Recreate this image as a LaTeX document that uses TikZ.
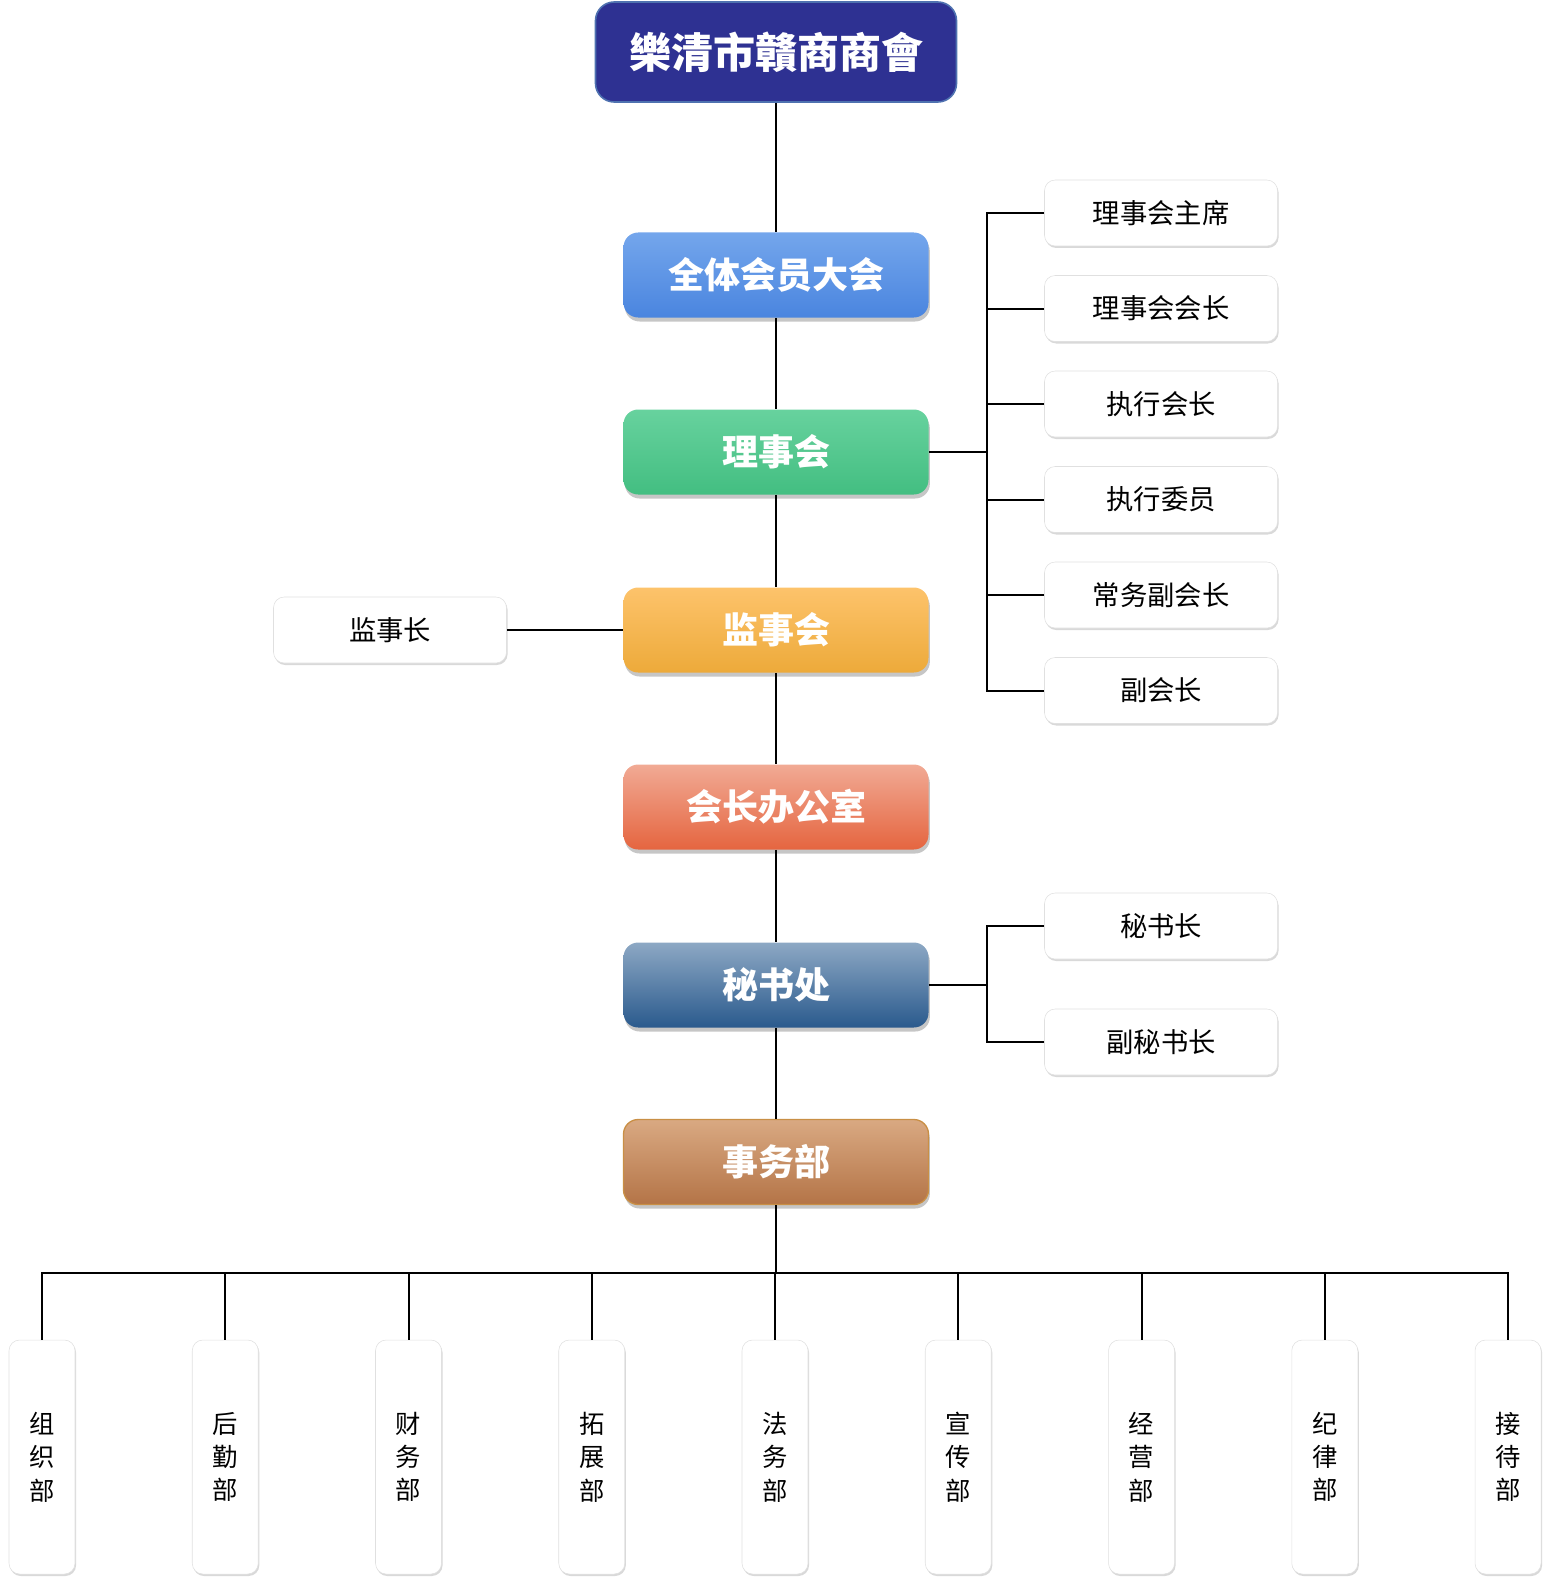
\documentclass[tikz,border=0pt]{standalone}
\usepackage{fontspec}
\setmainfont{Noto Sans CJK SC}
\usetikzlibrary{shadows}
\definecolor{ti}{HTML}{2E3192}
\definecolor{tb}{HTML}{4F72B0}
\definecolor{blt}{HTML}{74A6EC}
\definecolor{blb}{HTML}{4A85DF}
\definecolor{grt}{HTML}{67D29E}
\definecolor{grb}{HTML}{43BE81}
\definecolor{ort}{HTML}{FDC36B}
\definecolor{orb}{HTML}{EDAA3A}
\definecolor{ret}{HTML}{F1AA95}
\definecolor{reb}{HTML}{E5653F}
\definecolor{nvt}{HTML}{8DA8C4}
\definecolor{nvb}{HTML}{2A5A8D}
\definecolor{brt}{HTML}{D9A982}
\definecolor{brb}{HTML}{B47447}
\definecolor{brd}{HTML}{C98F45}

\begin{document}
\begin{tikzpicture}[x=0.75pt, y=-0.75pt,
  conn/.style={draw=black, line width=1.5pt},
  head/.style={fill=ti, draw=tb, line width=1.2pt, rounded corners=14pt,
    minimum width=270.75pt, minimum height=75pt, inner sep=0pt, text=white,
    font=\fontsize{31.5}{36}\selectfont\bfseries},
  lvl/.style={rounded corners=11pt, minimum width=228.75pt, minimum height=63.75pt,
    inner sep=0pt, text=white, font=\fontsize{27}{32}\selectfont\bfseries,
    drop shadow={opacity=0.45, shadow xshift=1pt, shadow yshift=-3pt}},
  post/.style={fill=white, draw=black!12, rounded corners=8pt,
    minimum width=174.75pt, minimum height=49.5pt, inner sep=0pt,
    font=\fontsize{20.5}{24}\selectfont,
    drop shadow={opacity=0.3, shadow xshift=0.8pt, shadow yshift=-1.5pt}},
  dept/.style={fill=white, draw=black!12, rounded corners=8pt,
    minimum width=49.5pt, minimum height=175.5pt, inner sep=0pt, align=center,
    font=\fontsize{19}{25}\selectfont,
    drop shadow={opacity=0.3, shadow xshift=0.8pt, shadow yshift=-1.5pt}}]

  \useasboundingbox (0,0) rectangle (1553,1587);

  % Head
  \node[head] (top) at (776,52) {樂清市贛商商會};

  % Main column
  \node[lvl, top color=blt, bottom color=blb] (gm) at (776,275) {全体会员大会};
  \node[lvl, top color=grt, bottom color=grb] (bd) at (776,452) {理事会};
  \node[lvl, top color=ort, bottom color=orb] (sv) at (776,630) {监事会};
  \node[lvl, top color=ret, bottom color=reb] (pr) at (776,807) {会长办公室};
  \node[lvl, top color=nvt, bottom color=nvb] (sc) at (776,985) {秘书处};
  \node[lvl, top color=brt, bottom color=brb, draw=brd, line width=1pt] (af) at (776,1162) {事务部};

  \draw[conn] (top) -- (gm) (gm) -- (bd) (bd) -- (sv) (sv) -- (pr) (pr) -- (sc) (sc) -- (af);

  % Board posts
  \coordinate (bbus) at (987,452);
  \draw[conn] (bd.east) -- (bbus);
  \foreach \t/\y [count=\i] in {理事会主席/213, 理事会会长/308.5, 执行会长/404,
      执行委员/499.5, 常务副会长/595, 副会长/690.5}{
    \node[post] (b\i) at (1161,\y) {\t};
    \draw[conn] (b\i.west) -| (bbus);
  }

  % Supervisor
  \node[post] (chief) at (390,630) {监事长};
  \draw[conn] (chief) -- (sv);

  % Secretariat posts
  \coordinate (sbus) at (987,985);
  \draw[conn] (sc.east) -- (sbus);
  \node[post] (s1) at (1161,926) {秘书长};
  \node[post] (s2) at (1161,1042) {副秘书长};
  \draw[conn] (s1.west) -| (sbus) (s2.west) -| (sbus);

  % Departments
  \coordinate (dbus) at (776,1273);
  \draw[conn] (af) -- (dbus);
  \foreach \t [count=\i] in {{组\\织\\部}, {后\\勤\\部}, {财\\务\\部}, {拓\\展\\部},
      {法\\务\\部}, {宣\\传\\部}, {经\\营\\部}, {纪\\律\\部}, {接\\待\\部}}{
    \node[dept] (d\i) at ({42+183.25*(\i-1)},1457) {\t};
    \draw[conn] (dbus) -| (d\i.north);
  }
\end{tikzpicture}
\end{document}
